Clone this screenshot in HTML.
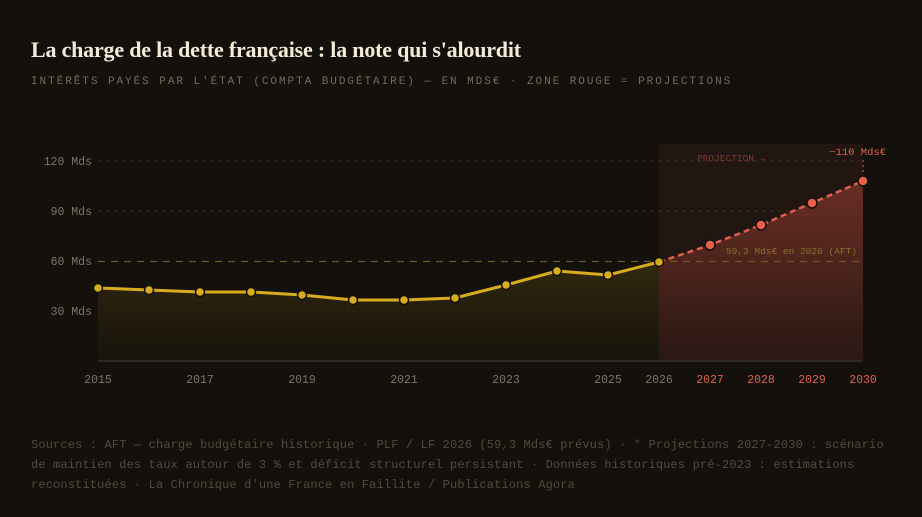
<!DOCTYPE html>
<html><head><meta charset="utf-8"><style>
body{margin:0;background:#14100b;width:922px;height:517px;overflow:hidden;position:relative;font-family:"Liberation Mono",monospace}
.t{position:absolute;left:31px;top:37px;font-family:"Liberation Serif",serif;font-weight:bold;font-size:22px;color:#f3ead7;letter-spacing:-0.2px}
.s{position:absolute;left:31px;top:76px;font-size:11px;letter-spacing:1.95px;color:#746b58;white-space:nowrap}
.f{position:absolute;left:31px;top:435px;width:868px;font-size:12px;line-height:20px;letter-spacing:0.15px;color:#524a3d}
</style></head><body>
<div class="t">La charge de la dette française : la note qui s'alourdit</div>
<div class="s">INTÉRÊTS PAYÉS PAR L'ÉTAT (COMPTA BUDGÉTAIRE) — EN MDS€ · ZONE ROUGE = PROJECTIONS</div>
<svg width="922" height="517" style="position:absolute;left:0;top:0">
<defs>
<linearGradient id="g1" x1="0" y1="0" x2="0" y2="1"><stop offset="0" stop-color="#3a2f10" stop-opacity="0.8"/><stop offset="1" stop-color="#1a160c" stop-opacity="0.6"/></linearGradient>
<linearGradient id="g2" x1="0" y1="0" x2="0" y2="1"><stop offset="0" stop-color="#6a2e24"/><stop offset="1" stop-color="#2a1814"/></linearGradient>
</defs>
<rect x="659" y="144" width="204" height="217" fill="#221612"/>
<g stroke="#3a342a" stroke-dasharray="3,5" stroke-width="1">
<line x1="98" y1="161" x2="863" y2="161"/><line x1="98" y1="211" x2="863" y2="211"/><line x1="98" y1="311" x2="863" y2="311"/>
</g>
<polygon fill="url(#g1)" points="98,288 149,290 200,292 251,292 302,295 353,300 404,300 455,298 506,285 557,271 608,275 659,262 659,361 98,361"/>
<polygon fill="url(#g2)" points="659,262 710,245 761,225 812,203 863,181 863,361 659,361"/>
<line x1="98" y1="261.5" x2="863" y2="261.5" stroke="#6a5a25" stroke-dasharray="7,6" stroke-width="1.3"/>
<line x1="98" y1="361" x2="863" y2="361" stroke="#2e2a22" stroke-width="2"/>
<polyline fill="none" stroke="#d8ac1f" stroke-width="3" points="98,288 149,290 200,292 251,292 302,295 353,300 404,300 455,298 506,285 557,271 608,275 659,262"/>
<polyline fill="none" stroke="#e0604c" stroke-width="2.5" stroke-dasharray="6,4" points="659,262 710,245 761,225 812,203 863,181"/>
<line x1="863" y1="160" x2="863" y2="176" stroke="#e0604c" stroke-dasharray="2,3"/>
<g fill="#d8ac1f" stroke="#14100b" stroke-width="1.5">
<circle cx="98" cy="288" r="4.5"/><circle cx="149" cy="290" r="4.5"/><circle cx="200" cy="292" r="4.5"/><circle cx="251" cy="292" r="4.5"/><circle cx="302" cy="295" r="4.5"/><circle cx="353" cy="300" r="4.5"/><circle cx="404" cy="300" r="4.5"/><circle cx="455" cy="298" r="4.5"/><circle cx="506" cy="285" r="4.5"/><circle cx="557" cy="271" r="4.5"/><circle cx="608" cy="275" r="4.5"/><circle cx="659" cy="262" r="4.5"/>
</g>
<g fill="#e8604a" stroke="#14100b" stroke-width="1.5">
<circle cx="710" cy="245" r="5"/><circle cx="761" cy="225" r="5"/><circle cx="812" cy="203" r="5"/><circle cx="863" cy="181" r="5"/>
</g>
<g font-family="Liberation Mono,monospace" font-size="11.5" fill="#7d7565" text-anchor="end">
<text x="92" y="165">120 Mds</text><text x="92" y="215">90 Mds</text><text x="92" y="265">60 Mds</text><text x="92" y="315">30 Mds</text>
</g>
<g font-family="Liberation Mono,monospace" font-size="11.5" fill="#7d7565" text-anchor="middle">
<text x="98" y="383">2015</text><text x="200" y="383">2017</text><text x="302" y="383">2019</text><text x="404" y="383">2021</text><text x="506" y="383">2023</text><text x="608" y="383">2025</text><text x="659" y="383">2026</text>
</g>
<g font-family="Liberation Mono,monospace" font-size="11.5" fill="#e0604c" text-anchor="middle">
<text x="710" y="383">2027</text><text x="761" y="383">2028</text><text x="812" y="383">2029</text><text x="863" y="383">2030</text>
</g>
<text x="697" y="161" font-family="Liberation Mono,monospace" font-size="9.5" fill="#7a3a30">PROJECTION →</text>
<text x="886" y="155" font-family="Liberation Mono,monospace" font-size="10.5" fill="#e0604c" text-anchor="end">~110 Mds€</text>
<text x="857" y="254" font-family="Liberation Mono,monospace" font-size="9.5" fill="#8a6f2c" text-anchor="end">59,3 Mds€ en 2026 (AFT)</text>
</svg>
<div class="f">Sources : AFT — charge budgétaire historique · PLF / LF 2026 (59,3 Mds€ prévus) · * Projections 2027-2030 : scénario de maintien des taux autour de 3 % et déficit structurel persistant · Données historiques pré-2023 : estimations reconstituées · La Chronique d'une France en Faillite / Publications Agora</div>
</body></html>
